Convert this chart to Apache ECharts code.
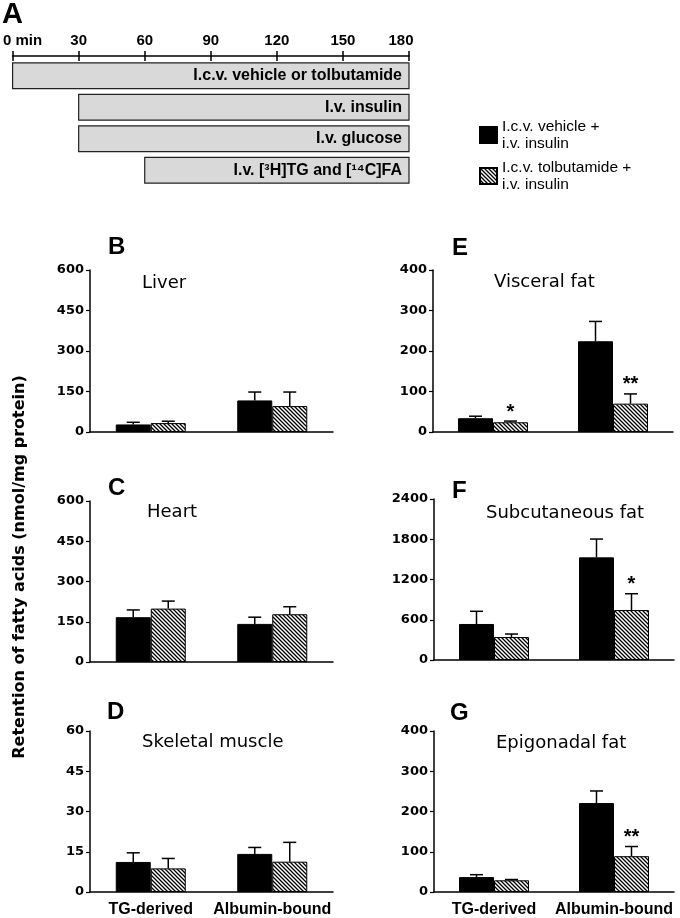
<!DOCTYPE html>
<html><head><meta charset="utf-8">
<script src="https://cdn.jsdelivr.net/npm/echarts@6/dist/echarts.min.js"></script>
<style>html,body{margin:0;padding:0;background:#fff}#c{width:680px;height:918px}</style>
</head><body><div id="c"></div>
<script>
// ---------- data ----------
const categories = ['TG-derived', 'Albumin-bound'];
const groupNames = ['I.c.v. vehicle +\ni.v. insulin', 'I.c.v. tolbutamide +\ni.v. insulin'];

const liverVehicle = [28, 117],   liverVehicleSem = [8, 31];
const liverTolb    = [33, 96],    liverTolbSem    = [7, 52];
const heartVehicle = [167, 142],  heartVehicleSem = [27, 25];
const heartTolb    = [199, 178],  heartTolbSem    = [28, 28];
const muscleVehicle = [11.2, 14.2], muscleVehicleSem = [3.4, 2.4];
const muscleTolb    = [8.8, 11.3],  muscleTolbSem    = [3.7, 7.2];
const visceralVehicle = [34, 224],  visceralVehicleSem = [5, 49];
const visceralTolb    = [24, 70],   visceralTolbSem    = [3, 24];
const subcutVehicle = [537, 1530],  subcutVehicleSem = [189, 273];
const subcutTolb    = [343, 745],   subcutTolbSem    = [44, 243];
const epiVehicle = [37, 221],  epiVehicleSem = [6, 30];
const epiTolb    = [29, 89],   epiTolbSem    = [2, 24];

const visceralSig = ['*', '**'];
const subcutSig   = ['', '*'];
const epiSig      = ['', '**'];

const yMaxB = 600, yStepB = 150;
const yMaxC = 600, yStepC = 150;
const yMaxD = 60,  yStepD = 15;
const yMaxE = 400, yStepE = 100;
const yMaxF = 2400, yStepF = 600;
const yMaxG = 400, yStepG = 100;

const timeMin = 0, timeMax = 180, timeStep = 30;
const protocolLabels = ['I.c.v. vehicle or tolbutamide', 'I.v. insulin', 'I.v. glucose', 'I.v. [\u00B3H]TG and [\u00B9\u2074C]FA'];
const protocolStart = [0, 30, 30, 60];
const protocolEnd   = [180, 180, 180, 180];

const panelLetters = ['A', 'B', 'C', 'D', 'E', 'F', 'G'];
const panelNames = ['Liver', 'Heart', 'Skeletal muscle', 'Visceral fat', 'Subcutaneous fat', 'Epigonadal fat'];
const yAxisTitle = 'Retention of fatty acids (nmol/mg protein)';

// ---------- build ----------
const hatch = document.createElement('canvas');
hatch.width = 4; hatch.height = 4;
(function () {
  const g = hatch.getContext('2d');
  g.fillStyle = '#fff'; g.fillRect(0, 0, 4, 4);
  g.strokeStyle = '#000'; g.lineWidth = 1.3;
  g.beginPath();
  g.moveTo(-1, -1); g.lineTo(5, 5);
  g.moveTo(-1, 3); g.lineTo(1, 5);
  g.moveTo(3, -1); g.lineTo(5, 1);
  g.stroke();
})();
const hatchFill = { image: hatch, repeat: 'repeat' };

const panels = [
  { grid: { left: 90, width: 243, top: 270, height: 162 }, max: yMaxB, step: yStepB, v: liverVehicle, vs: liverVehicleSem, t: liverTolb, ts: liverTolbSem, sig: null, xl: false },
  { grid: { left: 90, width: 243, top: 501, height: 161 }, max: yMaxC, step: yStepC, v: heartVehicle, vs: heartVehicleSem, t: heartTolb, ts: heartTolbSem, sig: null, xl: false },
  { grid: { left: 90, width: 243, top: 731, height: 162 }, max: yMaxD, step: yStepD, v: muscleVehicle, vs: muscleVehicleSem, t: muscleTolb, ts: muscleTolbSem, sig: null, xl: true },
  { grid: { left: 433, width: 240, top: 270, height: 162 }, max: yMaxE, step: yStepE, v: visceralVehicle, vs: visceralVehicleSem, t: visceralTolb, ts: visceralTolbSem, sig: visceralSig, xl: false },
  { grid: { left: 434, width: 240, top: 499, height: 161 }, max: yMaxF, step: yStepF, v: subcutVehicle, vs: subcutVehicleSem, t: subcutTolb, ts: subcutTolbSem, sig: subcutSig, xl: false },
  { grid: { left: 434, width: 240, top: 731, height: 162 }, max: yMaxG, step: yStepG, v: epiVehicle, vs: epiVehicleSem, t: epiTolb, ts: epiTolbSem, sig: epiSig, xl: true }
];

const BAR_W = 35;
const axisLineStyle = { color: '#000', width: 1.5 };

function errSeries(gi, means, sems, offset, sig) {
  return {
    type: 'custom', xAxisIndex: gi, yAxisIndex: gi, z: 5, silent: true,
    encode: { x: 0, y: [1, 2] },
    data: means.map((m, i) => [i, m, m + sems[i]]),
    renderItem(params, api) {
      const i = api.value(0);
      const base = api.coord([i, api.value(1)]);
      const top = api.coord([i, api.value(2)]);
      const x = base[0] + offset;
      const ch = [
        { type: 'line', shape: { x1: x, y1: base[1], x2: x, y2: top[1] }, style: { stroke: '#000', lineWidth: 1.5 } },
        { type: 'line', shape: { x1: x - 6.5, y1: top[1], x2: x + 6.5, y2: top[1] }, style: { stroke: '#000', lineWidth: 1.5 } }
      ];
      const s = sig && sig[params.dataIndex];
      if (s) ch.push({ type: 'text', style: { text: s, x: x, y: top[1] - 9, textAlign: 'center', textVerticalAlign: 'middle', font: 'bold 20px "Liberation Sans"', fill: '#000' } });
      return { type: 'group', children: ch };
    }
  };
}

const grids = [], xAxes = [], yAxes = [], series = [];
panels.forEach((p, gi) => {
  grids.push(Object.assign({ containLabel: false }, p.grid));
  xAxes.push({
    type: 'category', gridIndex: gi, data: categories,
    axisLine: { lineStyle: axisLineStyle }, axisTick: { show: false },
    axisLabel: { show: p.xl, color: '#000', fontFamily: 'Liberation Sans', fontWeight: 'bold', fontSize: 16, margin: 10, interval: 0 }
  });
  yAxes.push({
    type: 'value', gridIndex: gi, min: 0, max: p.max, interval: p.step,
    axisLine: { show: true, lineStyle: axisLineStyle },
    axisTick: { show: true, length: 4, lineStyle: { color: '#000', width: 1.2 } },
    splitLine: { show: false },
    axisLabel: { color: '#000', fontFamily: 'DejaVu Sans', fontWeight: 'bold', fontSize: 13, margin: 6, formatter: v => String(v) }
  });
  series.push({
    type: 'bar', name: groupNames[0], xAxisIndex: gi, yAxisIndex: gi, data: p.v,
    barWidth: BAR_W, barGap: '0%', itemStyle: { color: '#000', borderColor: '#000', borderWidth: 1 }, silent: true
  });
  series.push({
    type: 'bar', name: groupNames[1], xAxisIndex: gi, yAxisIndex: gi, data: p.t,
    barWidth: BAR_W, barGap: '0%', itemStyle: { color: hatchFill, borderColor: '#000', borderWidth: 1 }, silent: true
  });
  series.push(errSeries(gi, p.v, p.vs, -BAR_W / 2, null));
  series.push(errSeries(gi, p.t, p.ts, BAR_W / 2, p.sig));
});

// panel A timeline
const gA = grids.length;
grids.push({ left: 11, right: 271, top: 60, height: 126 });
const timeLabelFont = { fontFamily: 'Liberation Sans', fontWeight: 'bold', fontSize: 15, color: '#000' };
xAxes.push({
  type: 'value', gridIndex: gA, position: 'top', offset: 4, min: timeMin, max: timeMax, interval: timeStep,
  axisLine: { show: true, lineStyle: axisLineStyle },
  axisTick: { show: true, length: 5, lineStyle: { color: '#000', width: 1.5 } },
  splitLine: { show: false },
  axisLabel: Object.assign({
    margin: 8,
    formatter: v => v === timeMin ? '{a|' + v + ' min}' : (v === timeMax ? '{b|' + v + '}' : String(v)),
    rich: { a: Object.assign({ padding: [0, 0, 0, 20] }, timeLabelFont), b: Object.assign({ padding: [0, 16, 0, 0] }, timeLabelFont) }
  }, timeLabelFont)
});
xAxes.push({
  type: 'value', gridIndex: gA, position: 'top', offset: 4, min: timeMin, max: timeMax, interval: timeStep,
  axisLine: { show: false }, axisLabel: { show: false }, splitLine: { show: false },
  axisTick: { show: true, inside: true, length: 5, lineStyle: { color: '#000', width: 1.5 } }
});
yAxes.push({ type: 'category', gridIndex: gA, inverse: true, show: false, data: protocolLabels.map((_, i) => String(i)) });
series.push({
  type: 'custom', xAxisIndex: gA, yAxisIndex: gA, silent: true,
  encode: { x: [0, 1], y: 2 },
  data: protocolStart.map((s, i) => [s, protocolEnd[i], i]),
  renderItem(params, api) {
    const p0 = api.coord([api.value(0), api.value(2)]);
    const p1 = api.coord([api.value(1), api.value(2)]);
    const h = api.size([0, 1])[1] * 0.82;
    return {
      type: 'group', children: [
        { type: 'rect', shape: { x: p0[0], y: p0[1] - h / 2, width: p1[0] - p0[0], height: h }, style: { fill: '#d9d9d9', stroke: '#222', lineWidth: 1.2 } },
        { type: 'text', style: { text: protocolLabels[params.dataIndex], x: p1[0] - 7, y: p0[1], textAlign: 'right', textVerticalAlign: 'middle', font: 'bold 16px "Liberation Sans"', fill: '#000' } }
      ]
    };
  }
});

// texts
const letterPos = [[2, 15], [108, 247], [108, 488], [107, 712], [452, 248], [452, 491], [450, 713]];
const namePos = [[142, 283], [147, 512], [142, 742], [494, 282], [486, 513], [496, 743]];
const graphics = [];
panelLetters.forEach((t, i) => graphics.push({
  type: 'text', x: letterPos[i][0], y: letterPos[i][1],
  style: { text: t, font: 'bold ' + (i === 0 ? 29 : 24) + 'px "Liberation Sans"', fill: '#000', textAlign: 'left', textVerticalAlign: 'middle' }
}));
panelNames.forEach((t, i) => graphics.push({
  type: 'text', x: namePos[i][0], y: namePos[i][1],
  style: { text: t, font: '18px "DejaVu Sans"', fill: '#000', textAlign: 'left', textVerticalAlign: 'middle' }
}));
graphics.push({
  type: 'text', x: 20, y: 567, rotation: Math.PI / 2,
  style: { text: yAxisTitle, font: 'bold 16px "DejaVu Sans"', fill: '#000', textAlign: 'center', textVerticalAlign: 'middle' }
});

const chart = echarts.init(document.getElementById('c'), null, { renderer: 'canvas' });
chart.setOption({
  animation: false,
  backgroundColor: '#fff',
  grid: grids, xAxis: xAxes, yAxis: yAxes, series: series,
  legend: {
    data: groupNames, orient: 'vertical', left: 474, top: 113, itemWidth: 17, itemHeight: 16, itemGap: 7,
    icon: 'rect', selectedMode: false,
    textStyle: { fontFamily: 'Liberation Sans', fontSize: 15.5, lineHeight: 17, color: '#000' }
  },
  graphic: graphics
});
</script></body></html>
